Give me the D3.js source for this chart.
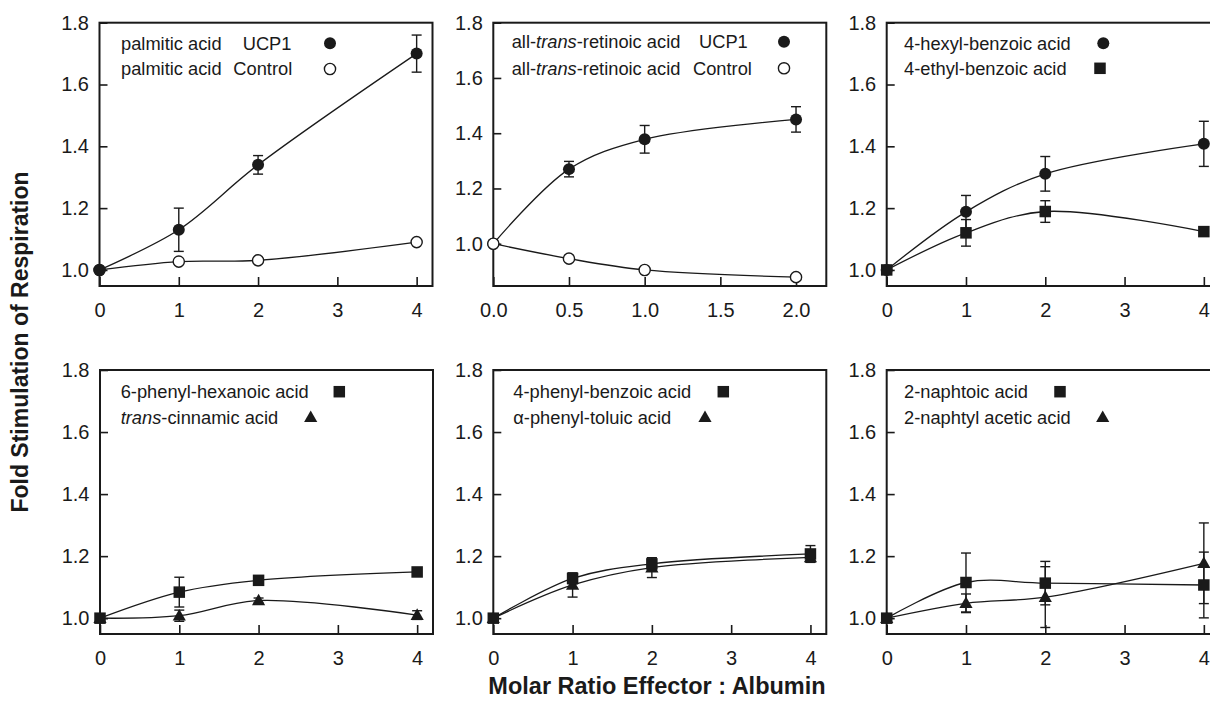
<!DOCTYPE html>
<html>
<head>
<meta charset="utf-8">
<script src="https://cdn.jsdelivr.net/npm/d3@7"></script>
<style>
  html, body { margin: 0; padding: 0; background: #fff; }
  svg { display: block; font-family: "Liberation Sans", Arial, Helvetica, sans-serif; }
</style>
</head>
<body>
<script>
// ---------- DATA ----------
const ratioX = [0, 1, 2, 4];
const retinoicX = [0, 0.5, 1, 2];
const ratioTicks = [0, 1, 2, 3, 4];
const retinoicTicks = [0, 0.5, 1.0, 1.5, 2.0];
const yTicks = [1.0, 1.2, 1.4, 1.6, 1.8];

const palmiticUCP1 = [1.00, 1.13, 1.34, 1.70];
const palmiticUCP1Err = [0, 0.07, 0.03, 0.06];
const palmiticControl = [1.00, 1.027, 1.031, 1.09];
const palmiticControlErr = [0, 0, 0, 0];

const retinoicUCP1 = [1.00, 1.27, 1.378, 1.45];
const retinoicUCP1Err = [0, 0.028, 0.05, 0.046];
const retinoicControl = [1.00, 0.946, 0.905, 0.879];
const retinoicControlErr = [0, 0, 0, 0];

const hexylBenzoic = [1.00, 1.188, 1.311, 1.408];
const hexylBenzoicErr = [0, 0.053, 0.056, 0.073];
const ethylBenzoic = [1.00, 1.12, 1.189, 1.124];
const ethylBenzoicErr = [0, 0.043, 0.035, 0];

const phenylHexanoic = [1.00, 1.084, 1.122, 1.149];
const phenylHexanoicErr = [0, 0.048, 0, 0];
const cinnamic = [1.00, 1.008, 1.057, 1.01];
const cinnamicErr = [0, 0.018, 0.008, 0.014];

const phenylBenzoic = [1.00, 1.128, 1.175, 1.207];
const phenylBenzoicErr = [0, 0.017, 0.019, 0.027];
const phenylToluic = [1.00, 1.107, 1.163, 1.196];
const phenylToluicErr = [0, 0.039, 0.032, 0.016];

const naphtoic = [1.00, 1.115, 1.113, 1.107];
const naphtoicErr = [0, 0.095, 0.07, 0.106];
const naphtylAcetic = [1.00, 1.048, 1.068, 1.177];
const naphtylAceticErr = [0, 0.03, 0.098, 0.13];

const yTitle = "Fold Stimulation of Respiration";
const xTitle = "Molar Ratio Effector : Albumin";

// ---------- LAYOUT ----------
const W = 333, INK = "#1a1a1a";
const TOP1 = 22.7, BOT1 = 286, TOP2 = 370, BOT2 = 634;

const panels = [
  { left: 99.5, top: TOP1, bottom: BOT1, xDomain: [0, 4.2], yDomain: [0.948, 1.8], xs: ratioX, xTicks: ratioTicks, fmt: d3.format("d"),
    series: [
      { y: palmiticControl, e: palmiticControlErr, m: "openCircle" },
      { y: palmiticUCP1, e: palmiticUCP1Err, m: "circle" }
    ],
    legend: [
      { y: 49.5, parts: [{ t: [["palmitic acid", false]], x: 121 }, { t: [["UCP1", false]], x: 242.7 }], m: "circle", mx: 330, my: 43.3 },
      { y: 75, parts: [{ t: [["palmitic acid", false]], x: 121 }, { t: [["Control", false]], x: 233.3 }], m: "openCircle", mx: 330, my: 69 }
    ] },
  { left: 493.3, top: TOP1, bottom: BOT1, xDomain: [0, 2.2], yDomain: [0.847, 1.8], xs: retinoicX, xTicks: retinoicTicks, fmt: d3.format(".1f"),
    series: [
      { y: retinoicUCP1, e: retinoicUCP1Err, m: "circle" },
      { y: retinoicControl, e: retinoicControlErr, m: "openCircle" }
    ],
    legend: [
      { y: 48, parts: [{ t: [["all-", false], ["trans", true], ["-retinoic acid", false]], x: 511.7 }, { t: [["UCP1", false]], x: 699 }], m: "circle", mx: 784, my: 41.7 },
      { y: 74.5, parts: [{ t: [["all-", false], ["trans", true], ["-retinoic acid", false]], x: 511.7 }, { t: [["Control", false]], x: 693 }], m: "openCircle", mx: 784, my: 68.3 }
    ] },
  { left: 886.7, top: TOP1, bottom: BOT1, xDomain: [0, 4.2], yDomain: [0.948, 1.8], xs: ratioX, xTicks: ratioTicks, fmt: d3.format("d"),
    series: [
      { y: hexylBenzoic, e: hexylBenzoicErr, m: "circle" },
      { y: ethylBenzoic, e: ethylBenzoicErr, m: "square" }
    ],
    legend: [
      { y: 49.5, parts: [{ t: [["4-hexyl-benzoic acid", false]], x: 904 }], m: "circle", mx: 1103.3, my: 43.3 },
      { y: 74.5, parts: [{ t: [["4-ethyl-benzoic acid", false]], x: 904 }], m: "square", mx: 1100, my: 68.3 }
    ] },
  { left: 100, top: TOP2, bottom: BOT2, xDomain: [0, 4.2], yDomain: [0.949, 1.8], xs: ratioX, xTicks: ratioTicks, fmt: d3.format("d"),
    series: [
      { y: cinnamic, e: cinnamicErr, m: "triangle" },
      { y: phenylHexanoic, e: phenylHexanoicErr, m: "square" }
    ],
    legend: [
      { y: 398, parts: [{ t: [["6-phenyl-hexanoic acid", false]], x: 120.7 }], m: "square", mx: 339.3, my: 391.7 },
      { y: 423.5, parts: [{ t: [["trans", true], ["-cinnamic acid", false]], x: 120.7 }], m: "triangle", mx: 310.7, my: 417.3 }
    ] },
  { left: 493.3, top: TOP2, bottom: BOT2, xDomain: [0, 4.2], yDomain: [0.949, 1.8], xs: ratioX, xTicks: ratioTicks, fmt: d3.format("d"),
    series: [
      { y: phenylToluic, e: phenylToluicErr, m: "triangle" },
      { y: phenylBenzoic, e: phenylBenzoicErr, m: "square" }
    ],
    legend: [
      { y: 398, parts: [{ t: [["4-phenyl-benzoic acid", false]], x: 513.3 }], m: "square", mx: 723.3, my: 391.7 },
      { y: 423.5, parts: [{ t: [["\u03B1-phenyl-toluic acid", false]], x: 513.3 }], m: "triangle", mx: 705, my: 417.3 }
    ] },
  { left: 886.7, top: TOP2, bottom: BOT2, xDomain: [0, 4.2], yDomain: [0.949, 1.8], xs: ratioX, xTicks: ratioTicks, fmt: d3.format("d"),
    series: [
      { y: naphtylAcetic, e: naphtylAceticErr, m: "triangle" },
      { y: naphtoic, e: naphtoicErr, m: "square" }
    ],
    legend: [
      { y: 398, parts: [{ t: [["2-naphtoic acid", false]], x: 904 }], m: "square", mx: 1060, my: 391.7 },
      { y: 423.5, parts: [{ t: [["2-naphtyl acetic acid", false]], x: 904 }], m: "triangle", mx: 1102.7, my: 417.3 }
    ] }
];

const svg = d3.select("body").append("svg").attr("width", 1210).attr("height", 712);

function drawMarker(g, type, cx, cy) {
  if (type === "circle") {
    g.append("circle").attr("cx", cx).attr("cy", cy).attr("r", 6).attr("fill", INK);
  } else if (type === "openCircle") {
    g.append("circle").attr("cx", cx).attr("cy", cy).attr("r", 5.6).attr("fill", "#fff").attr("stroke", INK).attr("stroke-width", 1.4);
  } else if (type === "square") {
    const s = 11.5;
    g.append("rect").attr("x", cx - s / 2).attr("y", cy - s / 2).attr("width", s).attr("height", s).attr("fill", INK);
  } else if (type === "triangle") {
    g.append("path").attr("d", `M${cx},${cy - 6.8}L${cx + 6.6},${cy + 4.8}L${cx - 6.6},${cy + 4.8}Z`).attr("fill", INK);
  }
}

panels.forEach(p => {
  const H = p.bottom - p.top;
  const x = d3.scaleLinear().domain(p.xDomain).range([p.left, p.left + W]);
  const y = d3.scaleLinear().domain(p.yDomain).range([p.bottom, p.top]);
  const g = svg.append("g");

  // axes (inward ticks)
  const ax = g.append("g").attr("transform", `translate(0,${p.bottom})`)
    .call(d3.axisBottom(x).tickValues(p.xTicks).tickFormat(p.fmt).tickSize(-9).tickPadding(16.3));
  const ay = g.append("g").attr("transform", `translate(${p.left},0)`)
    .call(d3.axisLeft(y).tickValues(yTicks).tickFormat(d3.format(".1f")).tickSize(-8).tickPadding(10.5));
  [ax, ay].forEach(a => {
    a.select(".domain").remove();
    a.selectAll(".tick line").attr("stroke", INK).attr("stroke-width", 1.6);
    a.selectAll(".tick text").attr("fill", INK).style("font-size", "20px").style("font-family", "'Liberation Sans', Arial, sans-serif");
  });

  // frame
  g.append("rect").attr("x", p.left).attr("y", p.top).attr("width", W).attr("height", H)
    .attr("fill", "none").attr("stroke", INK).attr("stroke-width", 2);

  const line = d3.line().x(d => x(d[0])).y(d => y(d[1])).curve(d3.curveCatmullRom.alpha(0.5));

  // lines
  p.series.forEach(s => {
    const pts = p.xs.map((xv, i) => [xv, s.y[i]]);
    g.append("path").attr("d", line(pts)).attr("fill", "none").attr("stroke", INK).attr("stroke-width", 1.3);
  });
  // error bars
  p.series.forEach(s => {
    p.xs.forEach((xv, i) => {
      const e = s.e[i];
      if (!e) return;
      const cx = x(xv), y1 = y(s.y[i] + e), y2 = y(s.y[i] - e);
      g.append("line").attr("x1", cx).attr("x2", cx).attr("y1", y1).attr("y2", y2).attr("stroke", INK).attr("stroke-width", 1.4);
      [y1, y2].forEach(yy => g.append("line").attr("x1", cx - 5).attr("x2", cx + 5).attr("y1", yy).attr("y2", yy).attr("stroke", INK).attr("stroke-width", 1.4));
    });
  });
  // markers
  p.series.forEach(s => {
    p.xs.forEach((xv, i) => drawMarker(g, s.m, x(xv), y(s.y[i])));
  });

  // legend
  p.legend.forEach(r => {
    r.parts.forEach(part => {
      const t = g.append("text").attr("x", part.x).attr("y", r.y).attr("fill", INK).style("font-size", "18.3px");
      part.t.forEach(([str, it]) => t.append("tspan").text(str).style("font-style", it ? "italic" : "normal"));
    });
    drawMarker(g, r.m, r.mx, r.my);
  });
});

// axis titles
svg.append("text").attr("transform", "translate(28,342) rotate(-90)").attr("text-anchor", "middle")
  .style("font-weight", "bold").style("font-size", "23px").attr("fill", INK).text(yTitle);
svg.append("text").attr("x", 657).attr("y", 694).attr("text-anchor", "middle")
  .style("font-weight", "bold").style("font-size", "23.5px").attr("fill", INK).text(xTitle);
</script>
</body>
</html>
